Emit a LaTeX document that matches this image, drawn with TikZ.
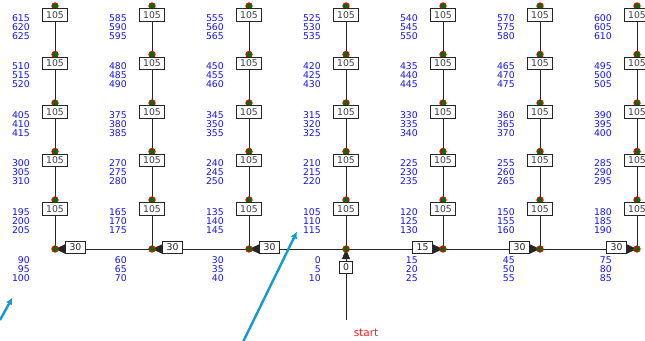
\documentclass[tikz,border=0pt]{standalone}
\usepackage{fontspec}
\setmainfont{DejaVu Sans}
\usetikzlibrary{arrows.meta}
\definecolor{lblblue}{RGB}{20,20,250}
\definecolor{dotgreen}{RGB}{0,110,0}
\definecolor{callout}{RGB}{20,155,205}
\definecolor{startred}{RGB}{250,30,30}
\tikzset{
  wire/.style={draw=black!85, line width=0.9pt},
  vbox/.style={draw=black!85, line width=1pt, fill=white, text=black!75, inner sep=0pt,
    minimum width=25.5pt, minimum height=12.5pt, font=\fontsize{9.3}{10}\selectfont},
  hbox/.style={draw=black!85, line width=1pt, fill=white, text=black!85, inner sep=0pt,
    minimum width=20pt, minimum height=12pt, font=\fontsize{9.3}{10}\selectfont},
  sbox/.style={hbox, minimum width=13.5pt},
  harrow/.style={wire, -{Triangle[length=10pt,width=9pt]}},
  junction/.style={circle, fill=dotgreen, draw=red, line width=0.8pt, inner sep=0pt, minimum size=6.5pt},
  lbl/.style={text=lblblue, inner sep=0pt, anchor=base east, font=\fontsize{9.3}{10}\selectfont},
  pointer/.style={draw=callout, line width=2.4pt, -{Latex[length=7pt,width=7pt]}},
}
\begin{document}
\begin{tikzpicture}[x=1pt,y=-1pt]
\useasboundingbox (0,0) rectangle (645,340);
% coordinates
\foreach \c in {0,...,6} {
  \pgfmathsetmacro\x{55+97*\c}
  \coordinate (b\c) at (\x,249);
  \foreach \r in {0,...,4} {
    \pgfmathsetmacro\y{6+48.5*\r}
    \coordinate (d\c\r) at (\x,\y);
  }
}
% wires
\foreach \c in {0,...,6} { \draw[wire] (b\c) -- (d\c0); }
\draw[wire] (b0) -- (b6);
% horizontal boxes and arrows
\foreach \c/\t in {0/30,1/30,2/30} {
  \pgfmathsetmacro\x{55+97*\c+10}
  \node[hbox, anchor=west] (h\c) at (\x,247) {\t};
  \draw[harrow] (h\c.west |- b\c) -- (b\c);
}
\foreach \c/\t in {4/15,5/30,6/30} {
  \pgfmathsetmacro\x{55+97*\c-10}
  \node[hbox, anchor=east] (h\c) at (\x,247) {\t};
  \draw[harrow] (h\c.east |- b\c) -- (b\c);
}
% start box
\node[sbox] (s0) at (346,267) {0};
\draw[wire, -{Triangle[length=10pt,width=8pt]}] (s0.north) -- (b3);
\coordinate (send) at (346,320);
\draw[wire] (s0.south) -- (send);
\node[text=startred, font=\fontsize{10.5}{12}\selectfont, inner sep=0pt] (start) at (366,333) {start};
% dots
\foreach \c in {0,...,6} {
  \node[junction] (jb\c) at (b\c) {};
  \foreach \r in {0,...,4} { \node[junction] (j\c\r) at (d\c\r) {}; }
}
% vertical boxes
\foreach \c in {0,...,6} {
  \pgfmathsetmacro\x{55+97*\c}
  \foreach \r in {0,...,4} {
    \pgfmathsetmacro\y{6+48.5*\r+8.8}
    \node[vbox] (v\c\r) at (\x,\y) {105};
  }
}
% labels
\foreach \c/\base in {0/90,1/60,2/30,3/0,4/15,5/45,6/75} {
  \pgfmathsetmacro\x{55+97*\c-25}
  \foreach \r in {0,...,4} {
    \pgfmathsetmacro\y{6+48.5*\r+15}
    \pgfmathtruncatemacro\va{\base+105*(5-\r)}
    \pgfmathtruncatemacro\vb{\va+5}
    \pgfmathtruncatemacro\vc{\va+10}
    \node[lbl] (la\c\r) at (\x,\y) {\va};
    \node[lbl] (lb\c\r) at (\x,\y+9.2) {\vb};
    \node[lbl] (lc\c\r) at (\x,\y+18.4) {\vc};
  }
  \pgfmathtruncatemacro\vb{\base+5}
  \pgfmathtruncatemacro\vc{\base+10}
  \node[lbl] (ma\c) at (\x,263.5) {\base};
  \node[lbl] (mb\c) at (\x,272.7) {\vb};
  \node[lbl] (mc\c) at (\x,281.9) {\vc};
}
% callout arrows
\coordinate (p1s) at (0,320);
\coordinate (p1e) at (12.5,297.5);
\draw[pointer] (p1s) -- (p1e);
\coordinate (p2s) at (243,342);
\coordinate (p2e) at (297,231.5);
\draw[pointer] (p2s) -- (p2e);
\end{tikzpicture}
\end{document}
